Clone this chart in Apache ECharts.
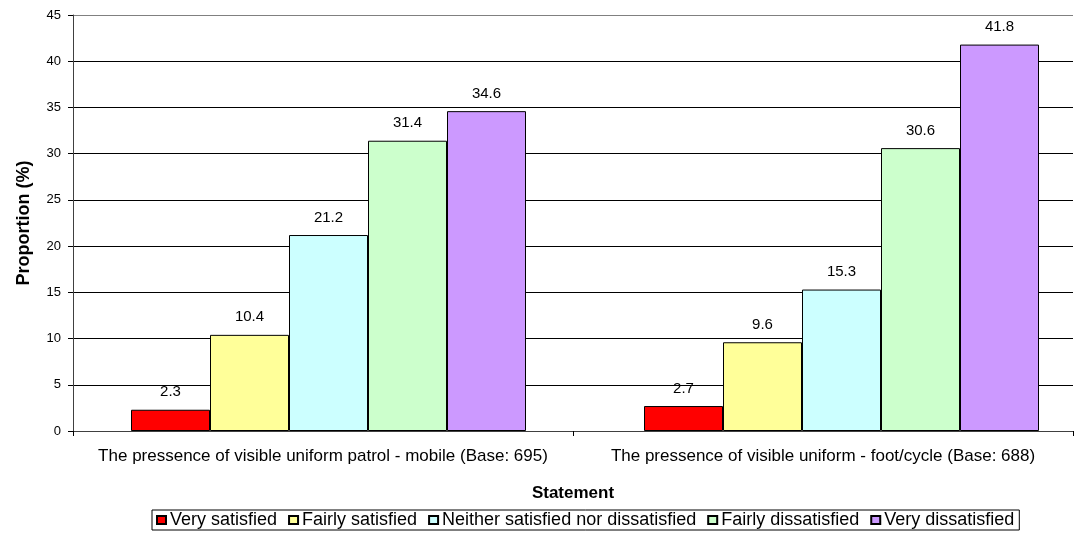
<!DOCTYPE html>
<html>
<head>
<meta charset="utf-8">
<script src="https://cdn.jsdelivr.net/npm/echarts@6/dist/echarts.min.js"></script>
<style>html,body{margin:0;padding:0;background:#fff}#c{width:1087px;height:560px}</style>
</head>
<body>
<div id="c"></div>
<script>
const categories = ["The pressence of visible uniform patrol - mobile (Base: 695)", "The pressence of visible uniform - foot/cycle (Base: 688)"];
const seriesNames = ["Very satisfied", "Fairly satisfied", "Neither satisfied nor dissatisfied", "Fairly dissatisfied", "Very dissatisfied"];
const verySatisfied = [2.3, 2.7];
const fairlySatisfied = [10.4, 9.6];
const neither = [21.2, 15.3];
const fairlyDissatisfied = [31.4, 30.6];
const veryDissatisfied = [34.6, 41.8];
const yTicks = [0, 5, 10, 15, 20, 25, 30, 35, 40, 45];
const colors = ["#FF0000", "#FFFF99", "#CCFFFF", "#CCFFCC", "#CC99FF"];

const values = [verySatisfied, fairlySatisfied, neither, fairlyDissatisfied, veryDissatisfied];
const font = "Liberation Sans, Arial, sans-serif";
const chart = echarts.init(document.getElementById('c'), null, {renderer: 'canvas'});
const splitColors = yTicks.map((t, i) => i === yTicks.length - 1 ? '#808080' : '#000');
const yMin = yTicks[0], yMax = yTicks[yTicks.length - 1], yStep = yTicks[1] - yTicks[0];

// invisible spacer series shifts the bar groups slightly right, as in the original layout
const spacer = {
  name: '_spacer', type: 'bar', data: categories.map(() => '-'), xAxisIndex: 1, yAxisIndex: 1,
  barWidth: 22, barGap: '0%', silent: true,
  itemStyle: {color: 'rgba(0,0,0,0)', borderWidth: 0}, label: {show: false}
};

chart.setOption({
  animation: false,
  textStyle: {fontFamily: font},
  grid: [
    {left: 73, right: 14, top: 15, bottom: 129},
    {left: 61, width: 1026, top: 15, bottom: 129}
  ],
  legend: {
    top: 510, left: 152,
    data: seriesNames,
    icon: 'rect', itemWidth: 9, itemHeight: 8, itemGap: 11,
    borderColor: '#000', borderWidth: 1, borderRadius: 0,
    padding: [1, 5, 1, 4],
    textStyle: {fontSize: 18, color: '#000', fontFamily: font, padding: [0, 0, 0, -1]}
  },
  xAxis: [{
    gridIndex: 0, type: 'category', data: categories,
    name: 'Statement', nameLocation: 'middle', nameGap: 54,
    nameTextStyle: {fontSize: 17, fontWeight: 'bold', color: '#000', fontFamily: font},
    axisLine: {lineStyle: {color: '#404040', width: 1}},
    axisTick: {show: true, length: 5, lineStyle: {color: '#000'}},
    axisLabel: {interval: 0, fontSize: 17, color: '#000', margin: 17, fontFamily: font}
  }, {
    gridIndex: 1, type: 'category', data: categories,
    axisLine: {show: false},
    axisTick: {show: false},
    axisLabel: {show: false}
  }],
  yAxis: [{
    gridIndex: 0, type: 'value', min: yMin, max: yMax, interval: yStep,
    name: 'Proportion (%)', nameLocation: 'middle', nameGap: 40,
    nameTextStyle: {fontSize: 18, fontWeight: 'bold', color: '#000', fontFamily: font},
    axisLine: {show: true, lineStyle: {color: '#404040', width: 1}},
    axisTick: {show: true, length: 5, lineStyle: {color: '#000'}},
    axisLabel: {fontSize: 13, color: '#000', margin: 12, fontFamily: font},
    splitLine: {show: true, lineStyle: {color: splitColors, width: 1}}
  }, {
    gridIndex: 1, type: 'value', min: yMin, max: yMax, interval: yStep,
    show: false
  }],
  series: [spacer].concat(seriesNames.map((n, i) => ({
    name: n, type: 'bar', data: values[i], xAxisIndex: 1, yAxisIndex: 1,
    barWidth: 79, barGap: '0%',
    itemStyle: {color: colors[i], borderColor: '#000', borderWidth: 1},
    label: {show: true, position: 'top', distance: 10, fontSize: 15, color: '#000', fontFamily: font}
  })))
});
</script>
</body>
</html>
